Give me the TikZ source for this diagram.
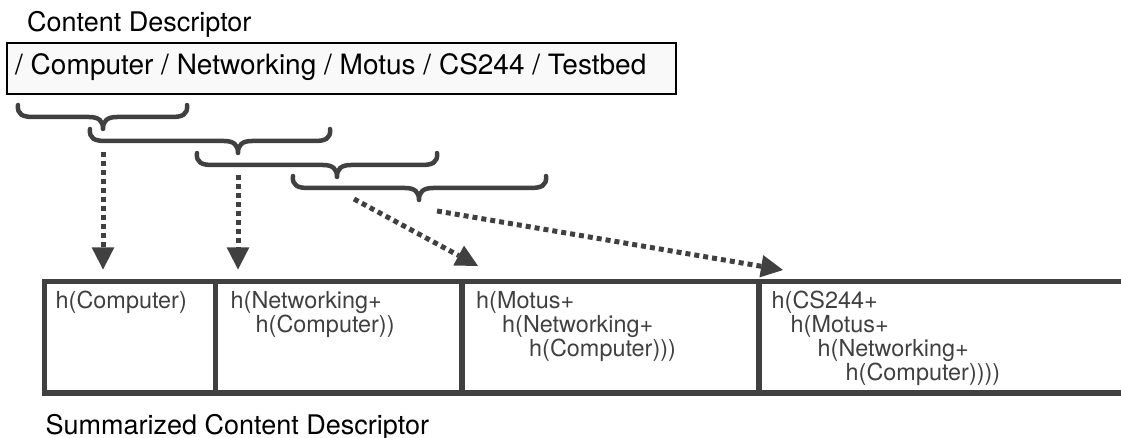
\documentclass[tikz,border=0pt]{standalone}
\usepackage{fontspec}
\setmainfont{TeX Gyre Heros}
\usetikzlibrary{arrows.meta}
\definecolor{dg}{RGB}{64,64,64}
\definecolor{boxfill}{RGB}{249,249,249}
\newcommand\curlybrace[4]{% x1 x2 xtip ytop
  \draw[bracestyle] (#1,#4) .. controls ({#1-1},{#4+10}) and ({#1+5},{#4+12}) .. ({#1+16},{#4+12})
    -- ({#3-14},{#4+12}) .. controls ({#3-4},{#4+12}) and (#3,{#4+16}) .. (#3,{#4+24})
    .. controls (#3,{#4+16}) and ({#3+4},{#4+12}) .. ({#3+14},{#4+12})
    -- ({#2-16},{#4+12}) .. controls ({#2-5},{#4+12}) and ({#2+1},{#4+10}) .. (#2,#4);}
\begin{document}
\begin{tikzpicture}[x=1pt,y=-1pt,
  bracestyle/.style={draw=dg, line width=4.5pt, line cap=round, line join=round},
  dotarrow/.style={draw=dg, line width=5pt, dash pattern=on 5pt off 4pt,
     -{Triangle[length=22pt,width=22.6pt,line width=0pt]}},
  frame/.style={draw=dg, line width=5.2pt},
  bigtext/.style={inner sep=0pt, anchor=base west, text=black, font=\fontsize{27}{32}\selectfont},
  celltext/.style={anchor=north west, inner sep=0pt, align=left, text=dg,
     font=\fontsize{23.4}{24}\selectfont}]
\useasboundingbox (0,0) rectangle (1121,438);

% content descriptor
\node[bigtext] (cdlabel) at (27,32) {Content Descriptor};
\node[draw=black, line width=2pt, fill=boxfill, minimum width=669pt, minimum height=51pt,
      anchor=north west, inner sep=0pt] (cdbox) at (6,42) {};
\node[inner sep=0pt, anchor=base west, font=\fontsize{28}{32}\selectfont] (cdpath) at (15,75)
  {/ Computer / Networking / Motus / CS244 / Testbed};

% braces
\curlybrace{18}{187}{103}{105}
\curlybrace{90}{330}{238}{129}
\curlybrace{197}{437}{337}{153}
\curlybrace{293}{546}{419}{176}

% summarized content descriptor frame
\draw[frame] (1121,281.7) -- (44.5,281.7) -- (44.5,393) -- (1121,393);
\draw[frame] (215.5,281.7) -- (215.5,393);
\draw[frame] (462,281.7) -- (462,393);
\draw[frame] (759,281.7) -- (759,393);

\node[celltext] (cell1) at (55.5,290.9) {h(Computer)};
\node[celltext] (cell2) at (230.5,290.9) {h(Networking+\\\hspace*{25pt}h(Computer))};
\node[celltext] (cell3) at (476,290.9) {h(Motus+\\\hspace*{26pt}h(Networking+\\\hspace*{53pt}h(Computer)))};
\node[celltext] (cell4) at (771.5,290.9) {h(CS244+\\\hspace*{19pt}h(Motus+\\\hspace*{46pt}h(Networking+\\\hspace*{74pt}h(Computer))))};

\node[bigtext] (sumlabel) at (45.5,434) {Summarized Content Descriptor};

% arrows
\coordinate (s1) at (103,152); \coordinate (e1) at (103,269.5);
\coordinate (s2) at (238,175); \coordinate (e2) at (238,269.5);
\coordinate (s3) at (354,199); \coordinate (e3) at (478,266);
\coordinate (s4) at (437,211); \coordinate (e4) at (783,270);
\draw[dotarrow] (s1) -- (e1);
\draw[dotarrow] (s2) -- (e2);
\draw[dotarrow] (s3) -- (e3);
\draw[dotarrow] (s4) -- (e4);
\end{tikzpicture}
\end{document}
